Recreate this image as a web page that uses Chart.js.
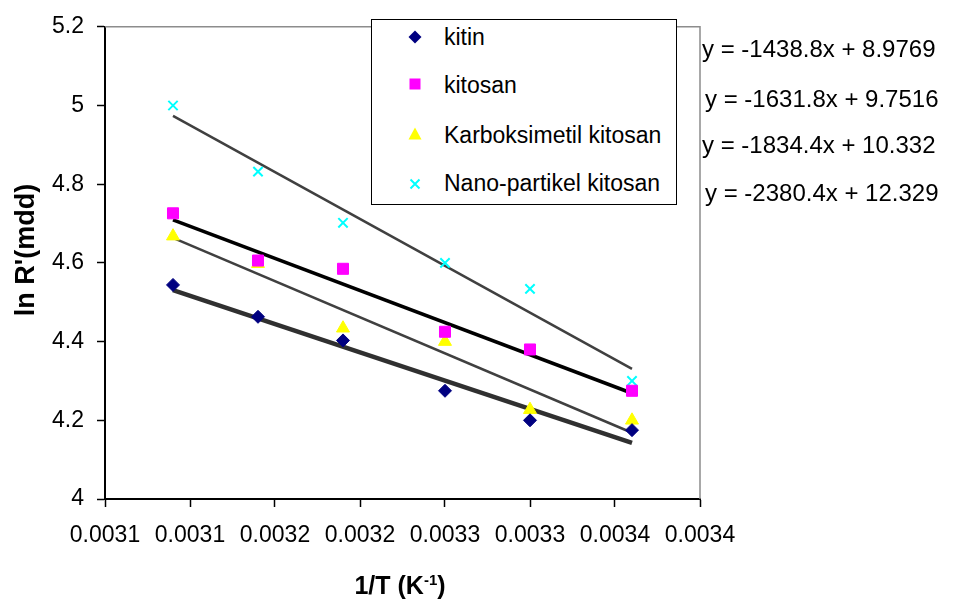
<!DOCTYPE html>
<html>
<head>
<meta charset="utf-8">
<script src="https://cdn.jsdelivr.net/npm/chart.js@4.4.0/dist/chart.umd.min.js"></script>
<style>
body{margin:0;background:#fff;font-family:"Liberation Sans",Arial,sans-serif;}
#wrap{position:relative;width:956px;height:605px;overflow:hidden;}
#chart{position:absolute;left:0;top:0;}
.txt{position:absolute;white-space:nowrap;color:#000;line-height:28px;}
#legend{position:absolute;left:371px;top:19px;width:304px;height:184px;border:1.5px solid #000;background:#fff;}
.eq{font-size:24px;}
.leg{font-size:23px;left:72px;}
.mk{position:absolute;}
</style>
</head>
<body>
<div id="wrap">
<canvas id="chart" width="956" height="605"></canvas>
<div id="legend"></div>
</div>
<script>
// données
const xValues = [0.00309, 0.00314, 0.00319, 0.00325, 0.0033, 0.00336];
const kitin = [4.544, 4.463, 4.403, 4.275, 4.200, 4.175];
const kitosan = [4.726, 4.606, 4.585, 4.425, 4.380, 4.275];
const karboksimetil = [4.668, 4.598, 4.434, 4.400, 4.227, 4.200];
const nanoPartikel = [5.000, 4.832, 4.702, 4.600, 4.534, 4.300];

const seriesNames = ["kitin", "kitosan", "Karboksimetil kitosan", "Nano-partikel kitosan"];
const slopes = [-1438.8, -1631.8, -1834.4, -2380.4];
const intercepts = [8.9769, 9.7516, 10.332, 12.329];
const equations = ["y = -1438.8x + 8.9769", "y = -1631.8x + 9.7516", "y = -1834.4x + 10.332", "y = -2380.4x + 12.329"];

const xTickLabels = ["0.0031", "0.0031", "0.0032", "0.0032", "0.0033", "0.0033", "0.0034", "0.0034"];
const yTickLabels = ["4", "4.2", "4.4", "4.6", "4.8", "5", "5.2"];
const yTitle = "ln R'(mdd)";

function points(values){
    return xValues.map((x, i) => ({x: x, y: values[i]}));
}

function trend(i){
    const x0 = xValues[0];
    const x1 = xValues[xValues.length - 1];
    return [{x: x0, y: slopes[i] * x0 + intercepts[i]}, {x: x1, y: slopes[i] * x1 + intercepts[i]}];
}

const datasets = [
    {label: seriesNames[0], data: points(kitin), pointStyle: 'rectRot', pointRadius: 6.5,
     backgroundColor: '#000080', borderColor: '#000080', borderWidth: 1},
    {label: seriesNames[1], data: points(kitosan), pointStyle: 'rect', pointRadius: 7.8,
     backgroundColor: '#FF00FF', borderColor: '#FF00FF', borderWidth: 1},
    {label: seriesNames[2], data: points(karboksimetil), pointStyle: 'triangle', pointRadius: 7.5,
     backgroundColor: '#FFFF00', borderColor: '#FFFF00', borderWidth: 1},
    {label: seriesNames[3], data: points(nanoPartikel), pointStyle: 'crossRot', pointRadius: 6.6,
     backgroundColor: '#00FFFF', borderColor: '#00FFFF', borderWidth: 2},
    {label: 'trend kitin', data: trend(0), showLine: true, pointRadius: 0, borderColor: '#303030', borderWidth: 4.5},
    {label: 'trend kitosan', data: trend(1), showLine: true, pointRadius: 0, borderColor: '#000000', borderWidth: 3.5},
    {label: 'trend karboksimetil', data: trend(2), showLine: true, pointRadius: 0, borderColor: '#404040', borderWidth: 2.5},
    {label: 'trend nano', data: trend(3), showLine: true, pointRadius: 0, borderColor: '#404040', borderWidth: 2.5}
];

// cadre gris en haut et à droite
const frame = {
    id: 'frame',
    beforeDatasetsDraw(chart){
        const a = chart.chartArea;
        const ctx = chart.ctx;
        ctx.save();
        ctx.strokeStyle = '#8c8c8c';
        ctx.lineWidth = 1.5;
        ctx.beginPath();
        ctx.moveTo(a.left, a.top);
        ctx.lineTo(a.right, a.top);
        ctx.lineTo(a.right, a.bottom);
        ctx.stroke();
        ctx.restore();
    }
};

Chart.defaults.font.family = '"Liberation Sans", Arial, sans-serif';
Chart.defaults.color = '#000';

const config = {
    type: 'scatter',
    data: {datasets: datasets},
    options: {
        responsive: false,
        animation: false,
        layout: {padding: {left: 0, top: 16, right: 256, bottom: 0}},
        plugins: {legend: {display: false}, tooltip: {enabled: false}},
        scales: {
            x: {
                type: 'linear', min: 0.00305, max: 0.0034,
                afterFit: s => { s.height = 106; },
                ticks: {stepSize: 0.00005, autoSkip: false, maxRotation: 0, padding: 15,
                        font: {size: 23}, callback: (v, i) => xTickLabels[i]},
                grid: {drawOnChartArea: false, drawTicks: true, tickLength: 8, tickColor: '#000', tickWidth: 1.5},
                border: {display: true, color: '#000', width: 2}
            },
            y: {
                min: 4, max: 5.2,
                afterFit: s => { s.width = 105; },
                ticks: {stepSize: 0.2, padding: 13, font: {size: 23}, callback: (v, i) => yTickLabels[i]},
                grid: {drawOnChartArea: false, drawTicks: true, tickLength: 8, tickColor: '#000', tickWidth: 1.5},
                border: {display: true, color: '#000', width: 2}
            }
        }
    },
    plugins: [frame]
};

const myChart = new Chart(document.getElementById('chart'), config);

// textes autour du graphique
const wrap = document.getElementById('wrap');

function addText(parent, text, left, top, cls, extra){
    const d = document.createElement('div');
    d.className = 'txt ' + (cls || '');
    d.style.left = left + 'px';
    d.style.top = top + 'px';
    if (extra) Object.assign(d.style, extra);
    d.textContent = text;
    parent.appendChild(d);
    return d;
}

// équations des droites
const eqLeft = [702, 705, 702, 705];
const eqTop = [35, 85, 131, 179];
equations.forEach((e, i) => addText(wrap, e, eqLeft[i], eqTop[i], 'eq'));

// titre axe y
addText(wrap, yTitle, -75, 235, '', {width: '200px', textAlign: 'center', fontSize: '27px', fontWeight: 'bold',
    lineHeight: '30px', transform: 'rotate(-90deg)'});

// titre axe x
const xt = addText(wrap, '', 300, 570, '', {width: '200px', textAlign: 'center', fontSize: '25px', fontWeight: 'bold',
    lineHeight: '30px'});
xt.innerHTML = '1/T (K<sup style="font-size:15px;vertical-align:9px;line-height:0">-1</sup>)';

// légende
const legend = document.getElementById('legend');
const legTop = [3, 51, 101, 149];
seriesNames.forEach((n, i) => addText(legend, n, 72, legTop[i], 'leg'));

function marker(html, cx, cy){
    const m = document.createElement('div');
    m.className = 'mk';
    m.innerHTML = html;
    m.style.left = (cx - 371 - 1.5 - 10) + 'px';
    m.style.top = (cy - 19 - 1.5 - 10) + 'px';
    legend.appendChild(m);
}
marker('<svg width="20" height="20"><polygon points="10,3.5 16.5,10 10,16.5 3.5,10" fill="#000080"/></svg>', 415, 37.5);
marker('<svg width="20" height="20"><rect x="4.5" y="4.5" width="11" height="11" fill="#FF00FF"/></svg>', 415, 84.5);
marker('<svg width="20" height="20"><polygon points="10,3.5 16.5,15.5 3.5,15.5" fill="#FFFF00"/></svg>', 415, 134);
marker('<svg width="20" height="20"><path d="M5.5,5.5 L14.5,14.5 M14.5,5.5 L5.5,14.5" stroke="#00FFFF" stroke-width="2"/></svg>', 415, 184);
</script>
</body>
</html>
